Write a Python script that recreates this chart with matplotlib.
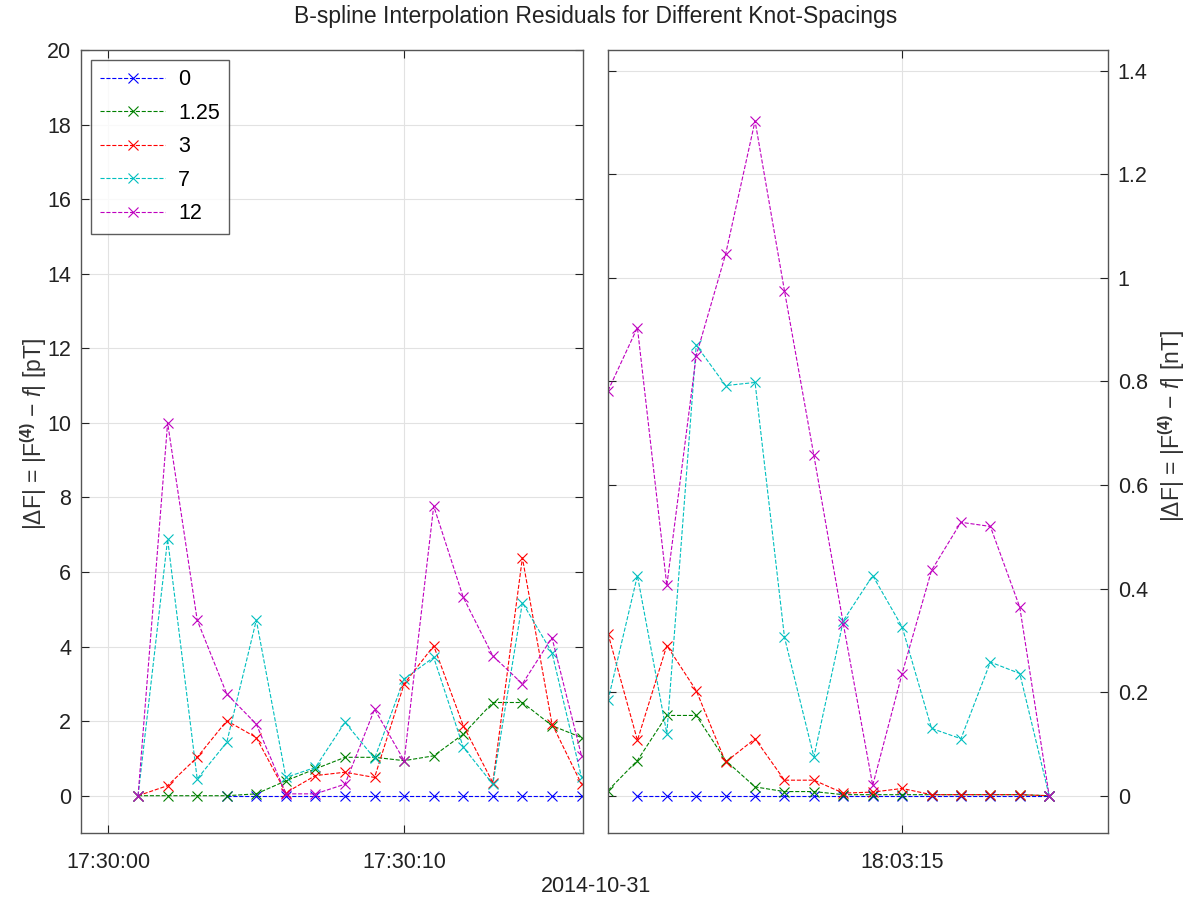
import numpy as np
import matplotlib
matplotlib.use('Agg')
import matplotlib.pyplot as plt

# knot spacings (legend labels)
spacings = ['0', '1.25', '3', '7', '12']
colors = ['#0000ff', '#008000', '#ff0000', '#00bfbf', '#bf00bf']

# left panel: seconds after 17:30:00, residuals in pT
t_left = np.arange(1, 17)
k0_left = [np.nan, np.nan, np.nan, 0, 0, 0, 0, 0, 0, 0, 0, 0, 0, 0, 0, 0]
k125_left = [0, 0, 0, 0, 0.05, 0.40, 0.72, 1.03, 1.03, 0.94, 1.07, 1.65, 2.50, 2.50, 1.88, 1.56]
k3_left = [0, 0.27, 1.03, 2.01, 1.56, 0.08, 0.54, 0.63, 0.49, 3.00, 4.02, 1.88, 0.35, 6.38, 1.93, 0.31]
k7_left = [0, 6.88, 0.45, 1.43, 4.71, 0.49, 0.76, 1.97, 1.00, 3.13, 3.71, 1.30, 0.31, 5.18, 3.84, 0.49]
k12_left = [0, 10.0, 4.71, 2.73, 1.92, 0.05, 0.05, 0.31, 2.32, 0.94, 7.77, 5.32, 3.75, 3.00, 4.24, 1.07]

# right panel: seconds after 18:03:00, residuals in nT
t_right = np.arange(5, 21)
k0_right = [np.nan, 0, 0, 0, 0, 0, 0, 0, 0, 0, 0, 0, 0, 0, 0, 0]
k125_right = [0.01, 0.068, 0.155, 0.155, 0.068, 0.017, 0.008, 0.008, 0.002, 0.002, 0.002, 0.002, 0.002, 0.002, 0.002, 0.0]
k3_right = [0.313, 0.107, 0.29, 0.203, 0.065, 0.11, 0.03, 0.03, 0.005, 0.007, 0.014, 0.002, 0.002, 0.002, 0.002, 0.0]
k7_right = [0.184, 0.425, 0.12, 0.87, 0.792, 0.798, 0.306, 0.075, 0.338, 0.425, 0.326, 0.13, 0.11, 0.258, 0.236, 0.0]
k12_right = [0.782, 0.904, 0.406, 0.85, 1.046, 1.303, 0.975, 0.657, 0.332, 0.02, 0.236, 0.435, 0.528, 0.52, 0.364, 0.0]

left_series = [k0_left, k125_left, k3_left, k7_left, k12_left]
right_series = [k0_right, k125_right, k3_right, k7_right, k12_right]

plt.rcParams['font.family'] = ['Liberation Sans', 'DejaVu Sans']
plt.rcParams['mathtext.fontset'] = 'custom'
plt.rcParams['mathtext.rm'] = 'Liberation Sans'
plt.rcParams['mathtext.it'] = 'Liberation Sans:italic'
plt.rcParams['mathtext.bf'] = 'Liberation Sans:bold'
fs = 15.5

fig = plt.figure(figsize=(11.92, 9.08), dpi=100)
ax1 = fig.add_axes([81/1192, 1 - 833/908, 502/1192, 783/908])
ax2 = fig.add_axes([608/1192, 1 - 833/908, 500/1192, 783/908])

style = dict(linestyle='--', linewidth=0.8, marker='x', markersize=7, markeredgewidth=0.8)

for ser, c, lab in zip(left_series, colors, spacings):
    ax1.plot(t_left, ser, color=c, label=lab, **style)
for ser, c in zip(right_series, colors):
    ax2.plot(t_right, ser, color=c, **style)

# axes setup
ax1.set_xlim(-0.93, 16.05)
ax1.set_ylim(-1, 20)
ax1.set_xticks([0, 10])
ax1.set_xticklabels(['17:30:00', '17:30:10'])
ax1.set_yticks(np.arange(0, 21, 2))

ax2.set_xlim(5, 22)
ax2.set_ylim(-0.072, 1.44)
ax2.set_xticks([15])
ax2.set_xticklabels(['18:03:15'])
ax2.set_yticks(np.arange(0, 1.41, 0.2))
ax2.set_yticklabels(['0', '0.2', '0.4', '0.6', '0.8', '1', '1.2', '1.4'])
ax2.yaxis.tick_right()

for ax in (ax1, ax2):
    ax.grid(True, color='#e2e2e2', linewidth=0.8)
    ax.tick_params(direction='in', length=6, width=0.8, top=True, bottom=True,
                   left=True, right=True, labelsize=fs, colors='#222222', pad=7)
    ax.tick_params(axis='x', pad=14)
    for s in ax.spines.values():
        s.set_color('#555555')
        s.set_linewidth(1.0)
    ax.set_axisbelow(True)
ax2.tick_params(labelleft=False, labelright=True)

ylab = r'|$\Delta$F| = |F$^{\mathbf{(4)}}$ $-$ $f$|'
ax1.set_ylabel(ylab + ' [pT]', fontsize=16.5, color='#333333')
ax1.yaxis.set_label_coords((49 - 81) / 502, 0.51)
ax2.set_ylabel(ylab + ' [nT]', fontsize=16.5, color='#333333')
ax2.yaxis.set_label_position('right')
ax2.yaxis.set_label_coords((1156 - 608) / 500, 0.52)

leg = ax1.legend(loc='upper left', fontsize=fs, frameon=True, fancybox=False,
                 edgecolor='#333333', handlelength=3.0, borderpad=0.45,
                 labelspacing=0.58, handletextpad=0.6, borderaxespad=0.45)
leg.get_frame().set_linewidth(1.0)

fig.text(0.5, 1 - 17/908, 'B-spline Interpolation Residuals for Different Knot-Spacings',
         ha='center', va='center', fontsize=16.5, color='#222222')
fig.text(0.5, 1 - 887/908, '2014-10-31', ha='center', va='center', fontsize=fs, color='#222222')

fig.savefig('out.png', dpi=100)
